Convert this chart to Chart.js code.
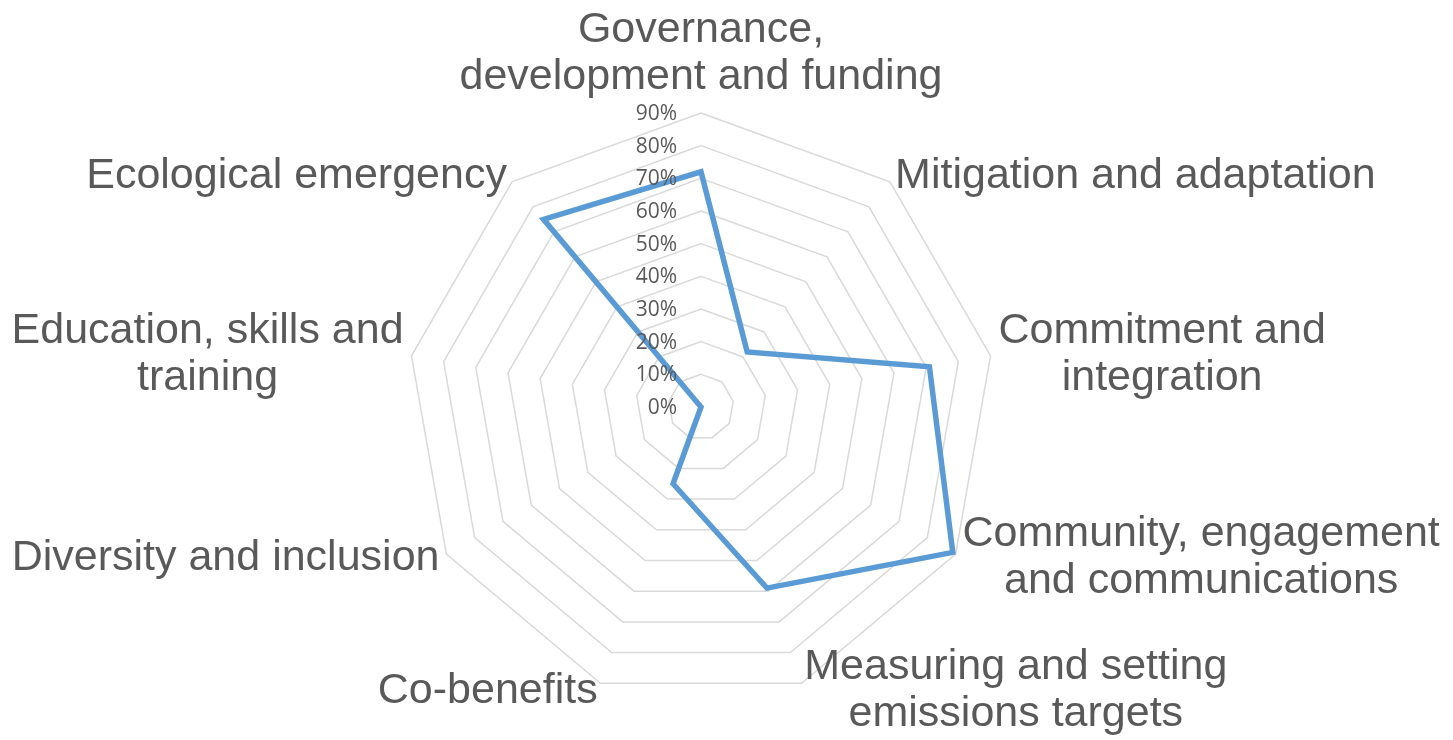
<!DOCTYPE html>
<html>
<head>
<meta charset="utf-8">
<script src="https://cdn.jsdelivr.net/npm/chart.js@4"></script>
<style>
  html, body { margin: 0; padding: 0; background: #fff; }
  #wrap { width: 1453px; height: 740px; }
</style>
</head>
<body>
<div id="wrap"><canvas id="radarChart"></canvas></div>
<script>
// categories, clockwise from the top
const categories = [
  ['Governance,', 'development and funding'],
  ['Mitigation and adaptation'],
  ['Commitment and', 'integration'],
  ['Community, engagement', 'and communications'],
  ['Measuring and setting', 'emissions targets'],
  ['Co-benefits'],
  ['Diversity and inclusion'],
  ['Education, skills and', 'training'],
  ['Ecological emergency']
];
const scores = [72, 22, 71, 89, 59, 25, 0, 0, 75];
const tickValues = [0, 10, 20, 30, 40, 50, 60, 70, 80, 90];
const tickLabels = ['0%', '10%', '20%', '30%', '40%', '50%', '60%', '70%', '80%', '90%'];

// Excel style labels: ticks left of the axis, category text blocks outside the web
const excelLabels = {
  id: 'excelLabels',
  afterDraw(chart) {
    const scale = chart.scales.r;
    const ctx = chart.ctx;
    ctx.save();
    ctx.fillStyle = '#595959';

    ctx.font = '21px "Open Sans"';
    ctx.textAlign = 'right';
    ctx.textBaseline = 'middle';
    tickValues.forEach((v, i) => {
      const d = scale.getDistanceFromCenterForValue(v);
      ctx.fillText(tickLabels[i], scale.xCenter - 24, scale.yCenter - d + 1);
    });

    ctx.font = '43px "Liberation Sans"';
    ctx.textAlign = 'center';
    const lineH = 47;
    const n = categories.length;
    categories.forEach((lines, i) => {
      const deg = 360 * i / n;
      const p = scale.getPointPosition(i, scale.drawingArea + 8);
      const w = Math.max(...lines.map(l => ctx.measureText(l).width));
      const h = lines.length * lineH;
      let cx = p.x;
      if (deg > 0 && deg < 180) cx = p.x + w / 2;
      else if (deg > 180) cx = p.x - w / 2;
      let cy = p.y;
      if (deg === 0) cy = p.y - h / 2 - 4;
      lines.forEach((l, k) => {
        ctx.fillText(l, cx, cy + (k - (lines.length - 1) / 2) * lineH);
      });
    });
    ctx.restore();
  }
};

const ctx = document.getElementById('radarChart').getContext('2d');
const radarChart = new Chart(ctx, {
  type: 'radar',
  data: {
    labels: categories,
    datasets: [{
      label: 'Score',
      data: scores,
      borderColor: '#5b9bd5',
      borderWidth: 5.5,
      backgroundColor: 'transparent',
      fill: false,
      pointRadius: 0,
      pointHoverRadius: 0,
      tension: 0
    }]
  },
  options: {
    responsive: true,
    maintainAspectRatio: false,
    animation: false,
    layout: {
      padding: { top: 113, bottom: 39, left: 201, right: 252 }
    },
    plugins: {
      legend: { display: false },
      tooltip: { enabled: false }
    },
    scales: {
      r: {
        min: 0,
        max: 90,
        ticks: { stepSize: 10, display: false },
        grid: { color: '#d9d9d9', lineWidth: 1.5 },
        angleLines: { display: false },
        pointLabels: { display: false }
      }
    }
  },
  plugins: [excelLabels]
});
</script>
</body>
</html>
